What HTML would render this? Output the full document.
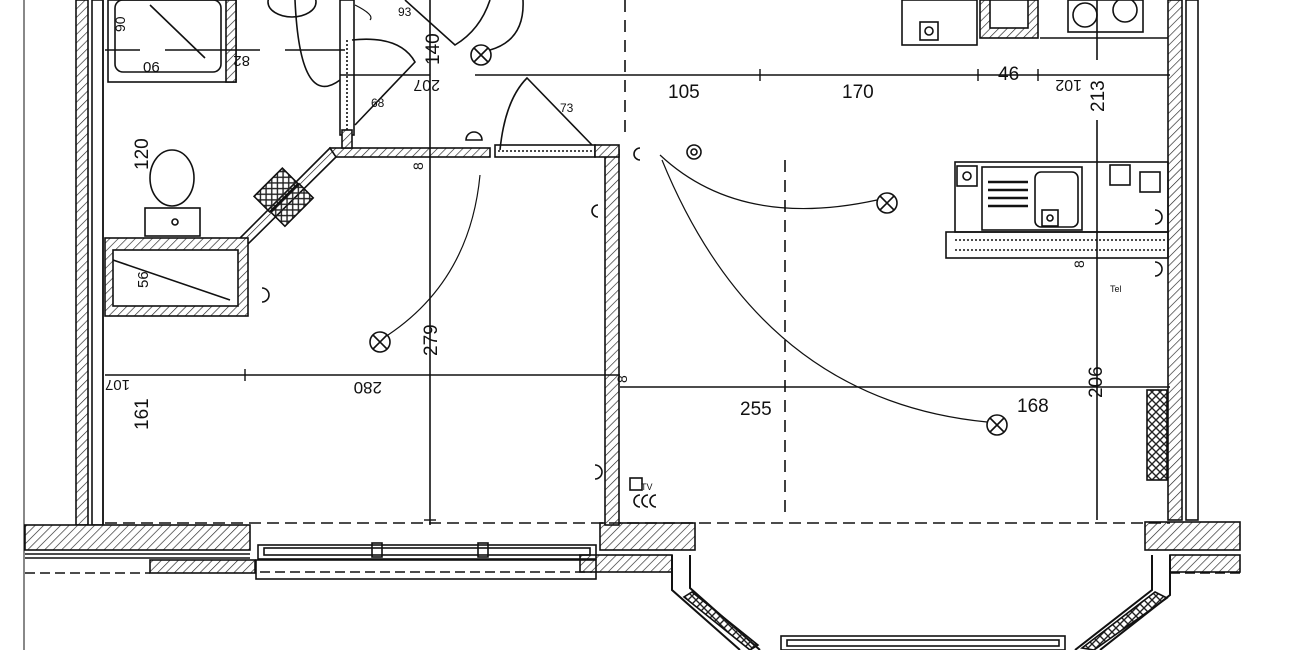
<!DOCTYPE html>
<html><head><meta charset="utf-8"><style>
html,body{margin:0;padding:0;background:#fff;}
svg{display:block;}
text{font-family:"Liberation Sans",sans-serif;fill:#111;}
</style></head><body>
<svg width="1300" height="650" viewBox="0 0 1300 650" xmlns="http://www.w3.org/2000/svg">
<defs>
<pattern id="h" width="6" height="6" patternUnits="userSpaceOnUse" patternTransform="rotate(45)">
<rect width="6" height="6" fill="#fff"/><line x1="0" y1="0" x2="0" y2="6" stroke="#222" stroke-width="1.3"/></pattern>
<pattern id="x" width="8" height="8" patternUnits="userSpaceOnUse">
<path d="M0 0L8 8M8 0L0 8" stroke="#222" stroke-width="1.4"/></pattern>
</defs>
<g stroke="#111" fill="none" stroke-width="1.6">
<line x1="24" y1="0" x2="24" y2="650" stroke-width="1"/>
<!-- left outer wall -->
<rect x="76" y="0" width="12" height="525" fill="url(#h)"/>
<rect x="92" y="0" width="11" height="525" fill="#fff"/>
<line x1="103" y1="0" x2="103" y2="525"/>
<!-- right outer wall -->
<rect x="1168" y="0" width="14" height="520" fill="url(#h)"/>
<rect x="1186" y="0" width="12" height="520" fill="#fff"/>
<!-- bottom walls -->
<rect x="25" y="525" width="225" height="25" fill="url(#h)"/>
<line x1="25" y1="554" x2="250" y2="554"/><line x1="25" y1="558" x2="250" y2="558"/>
<rect x="150" y="560" width="105" height="13" fill="url(#h)"/>
<line x1="25" y1="573" x2="150" y2="573" stroke-dasharray="10 5"/>
<rect x="600" y="523" width="95" height="27" fill="url(#h)"/>
<rect x="580" y="555" width="92" height="17" fill="url(#h)"/>
<rect x="1145" y="522" width="95" height="28" fill="url(#h)"/>
<rect x="1170" y="555" width="70" height="17" fill="url(#h)"/>
<line x1="1170" y1="573" x2="1240" y2="573" stroke-dasharray="10 5"/>
<!-- window left -->
<rect x="258" y="545" width="338" height="14"/>
<rect x="264" y="548" width="326" height="7"/>
<rect x="256" y="560" width="340" height="19"/>
<line x1="260" y1="572" x2="592" y2="572" stroke-dasharray="10 5"/>
<rect x="372" y="543" width="10" height="14"/><rect x="478" y="543" width="10" height="14"/>
<!-- bay -->
<path d="M672 555 L672 590 L740 650" stroke-width="2"/>
<path d="M690 555 L690 588 L760 650" stroke-width="2"/>
<path d="M692 592 L758 645 L750 650 L684 597Z" fill="url(#x)"/>
<path d="M1152 555 L1152 590 L1075 650" stroke-width="2"/>
<path d="M1170 555 L1170 595 L1100 650" stroke-width="2"/>
<path d="M1155 592 L1082 648 L1094 650 L1167 598Z" fill="url(#x)"/>
<rect x="781" y="636" width="284" height="14"/>
<rect x="787" y="640" width="272" height="6"/>
<!-- interior partition -->
<rect x="605" y="150" width="14" height="375" fill="url(#h)"/>
<!-- horizontal wall y150 -->
<rect x="330" y="148" width="160" height="9" fill="url(#h)"/>
<rect x="495" y="145" width="100" height="12"/>
<line x1="498" y1="151" x2="592" y2="151" stroke-dasharray="2 2"/>
<rect x="595" y="145" width="24" height="12" fill="url(#h)"/>
<!-- diagonal wall -->
<path d="M330 148 L240 238 L248 244 L336 157Z" fill="url(#h)"/>
<rect x="265" y="170" width="22" height="40" fill="url(#x)" transform="rotate(45 276 190)"/>
<rect x="282" y="185" width="20" height="40" fill="url(#x)" transform="rotate(45 292 205)"/>
<!-- bath box -->
<rect x="105" y="238" width="143" height="78" fill="url(#h)"/>
<rect x="113" y="250" width="125" height="56" fill="#fff"/>
<line x1="113" y1="260" x2="230" y2="300"/>
<!-- vertical wall small near 345 -->
<rect x="340" y="0" width="14" height="135" fill="#fff"/>
<line x1="347" y1="40" x2="347" y2="130" stroke-dasharray="2 2"/>
<rect x="342" y="130" width="10" height="18" fill="url(#h)"/>
<!-- bathtub -->
<rect x="108" y="0" width="128" height="82"/>
<rect x="115" y="0" width="106" height="72" rx="8"/>
<rect x="226" y="0" width="10" height="82" fill="url(#h)"/>
<line x1="150" y1="5" x2="205" y2="58"/>
<line x1="105" y1="50" x2="140" y2="50"/><line x1="165" y1="50" x2="260" y2="50"/><line x1="285" y1="50" x2="345" y2="50"/>
<!-- toilet -->
<ellipse cx="172" cy="178" rx="22" ry="28"/>
<rect x="145" y="208" width="55" height="28"/>
<circle cx="175" cy="222" r="3"/>
<ellipse cx="292" cy="2" rx="24" ry="15"/>
<!-- door arcs -->
<path d="M352 40 Q400 35 415 62 L355 125"/>
<path d="M295 0 Q300 110 340 80"/>
<path d="M500 150 Q505 100 527 78 L592 145"/>
<path d="M405 0 L455 45 Q480 30 490 0"/>
<path d="M523 0 Q525 40 490 50"/>
<!-- dimension lines -->
<line x1="340" y1="75" x2="430" y2="75"/><line x1="475" y1="75" x2="1170" y2="75"/>
<line x1="105" y1="375" x2="620" y2="375"/>
<line x1="620" y1="387" x2="1170" y2="387"/>
<line x1="430" y1="0" x2="430" y2="525"/>
<line x1="1097" y1="120" x2="1097" y2="520"/>
<line x1="1097" y1="0" x2="1097" y2="60"/>
<line x1="105" y1="523" x2="1170" y2="523" stroke-dasharray="12 6"/>
<line x1="625" y1="0" x2="625" y2="140" stroke-dasharray="12 8"/>
<line x1="785" y1="160" x2="785" y2="520" stroke-dasharray="12 8"/>
<g stroke-width="1.4">
<line x1="760" y1="69" x2="760" y2="81"/><line x1="978" y1="69" x2="978" y2="81"/><line x1="1038" y1="69" x2="1038" y2="81"/>
<line x1="245" y1="369" x2="245" y2="381"/>
<line x1="424" y1="520" x2="436" y2="520"/>
</g>
<!-- kitchen top -->
<rect x="902" y="0" width="75" height="45"/>
<rect x="920" y="22" width="18" height="18"/><circle cx="929" cy="31" r="4"/>
<rect x="980" y="0" width="58" height="38" fill="url(#h)"/>
<rect x="990" y="0" width="38" height="28" fill="#fff"/>
<rect x="1068" y="0" width="75" height="32"/>
<circle cx="1085" cy="15" r="12"/><circle cx="1125" cy="10" r="12"/>
<line x1="1040" y1="38" x2="1168" y2="38"/>
<!-- kitchen counter -->
<rect x="955" y="162" width="213" height="70"/>
<rect x="982" y="167" width="100" height="63"/>
<rect x="1035" y="172" width="43" height="55" rx="6"/>
<g stroke-width="2.5"><line x1="988" y1="182" x2="1028" y2="182"/><line x1="988" y1="190" x2="1028" y2="190"/><line x1="988" y1="198" x2="1028" y2="198"/><line x1="988" y1="206" x2="1028" y2="206"/></g>
<rect x="957" y="166" width="20" height="20"/><circle cx="967" cy="176" r="4"/>
<rect x="1042" y="210" width="16" height="16"/><circle cx="1050" cy="218" r="3"/>
<rect x="1110" y="165" width="20" height="20"/><rect x="1140" y="172" width="20" height="20"/>
<rect x="946" y="232" width="222" height="26"/>
<line x1="955" y1="240" x2="1165" y2="240" stroke-dasharray="2 2"/>
<line x1="955" y1="250" x2="1165" y2="250" stroke-dasharray="2 2"/>
<rect x="1147" y="390" width="20" height="90" fill="url(#x)"/>
<!-- light fixtures -->
<g>
<circle cx="481" cy="55" r="10"/><path d="M474 48L488 62M488 48L474 62"/>
<circle cx="380" cy="342" r="10"/><path d="M373 335L387 349M387 335L373 349"/>
<circle cx="887" cy="203" r="10"/><path d="M880 196L894 210M894 196L880 210"/>
<circle cx="997" cy="425" r="10"/><path d="M990 418L1004 432M1004 418L990 432"/>
<circle cx="694" cy="152" r="7"/><circle cx="694" cy="152" r="3"/>
</g>
<!-- wiring arcs -->
<path d="M480 175 Q470 280 388 335" stroke-width="1.2"/>
<path d="M660 155 Q740 230 877 200" stroke-width="1.2"/>
<path d="M662 160 Q760 400 987 422" stroke-width="1.2"/>
<path d="M355 5 Q375 15 370 20" stroke-width="1.2"/>
<!-- sockets -->
<path d="M598 205 a6 6 0 0 0 0 12" /><path d="M595 465 a7 7 0 0 1 0 14"/>
<path d="M262 288 a7 7 0 0 1 0 14"/><path d="M1155 210 a7 7 0 0 1 0 14"/><path d="M1155 262 a7 7 0 0 1 0 14"/>
<path d="M640 148 a6 6 0 0 0 0 12"/>
<rect x="630" y="478" width="12" height="12"/>
<path d="M640 495 a6 6 0 0 0 0 12 M648 495 a6 6 0 0 0 0 12 M656 495 a6 6 0 0 0 0 12"/>
<path d="M466 140 a8 8 0 0 1 16 0Z"/>
</g>
<g font-size="19">
<text x="668" y="98">105</text>
<text x="842" y="98">170</text>
<text x="998" y="80">46</text>
<text x="740" y="415">255</text>
<text x="1017" y="412">168</text>
<text x="371" y="107" font-size="12">68</text>
<text x="560" y="112" font-size="12">73</text>
<text x="398" y="16" font-size="12">93</text>
<text x="1110" y="292" font-size="9">Tel</text>
<text x="641" y="490" font-size="9">TV</text>
<text transform="translate(1104,112) rotate(-90)">213</text>
<text transform="translate(1102,398) rotate(-90)">206</text>
<text transform="translate(437,356) rotate(-90)">279</text>
<text transform="translate(439,65) rotate(-90)">140</text>
<text transform="translate(148,430) rotate(-90)">161</text>
<text transform="translate(148,170) rotate(-90)">120</text>
<text transform="translate(148,288) rotate(-90)" font-size="15">56</text>
<text transform="translate(125,32) rotate(-90)" font-size="14">90</text>
<text x="143" y="72" font-size="15">06</text>
<text transform="translate(382,382) rotate(180)" font-size="17">280</text>
<text transform="translate(250,56) rotate(180)" font-size="15">82</text>
<text transform="translate(440,80) rotate(180)" font-size="16">207</text>
<text transform="translate(1082,80) rotate(180)" font-size="16">102</text>
<text transform="translate(130,380) rotate(180)" font-size="15">107</text>
<text transform="translate(423,170) rotate(-90)" font-size="14">8</text>
<text transform="translate(627,383) rotate(-90)" font-size="14">8</text>
<text transform="translate(1084,268) rotate(-90)" font-size="14">8</text>
</g>
</svg>
</body></html>
